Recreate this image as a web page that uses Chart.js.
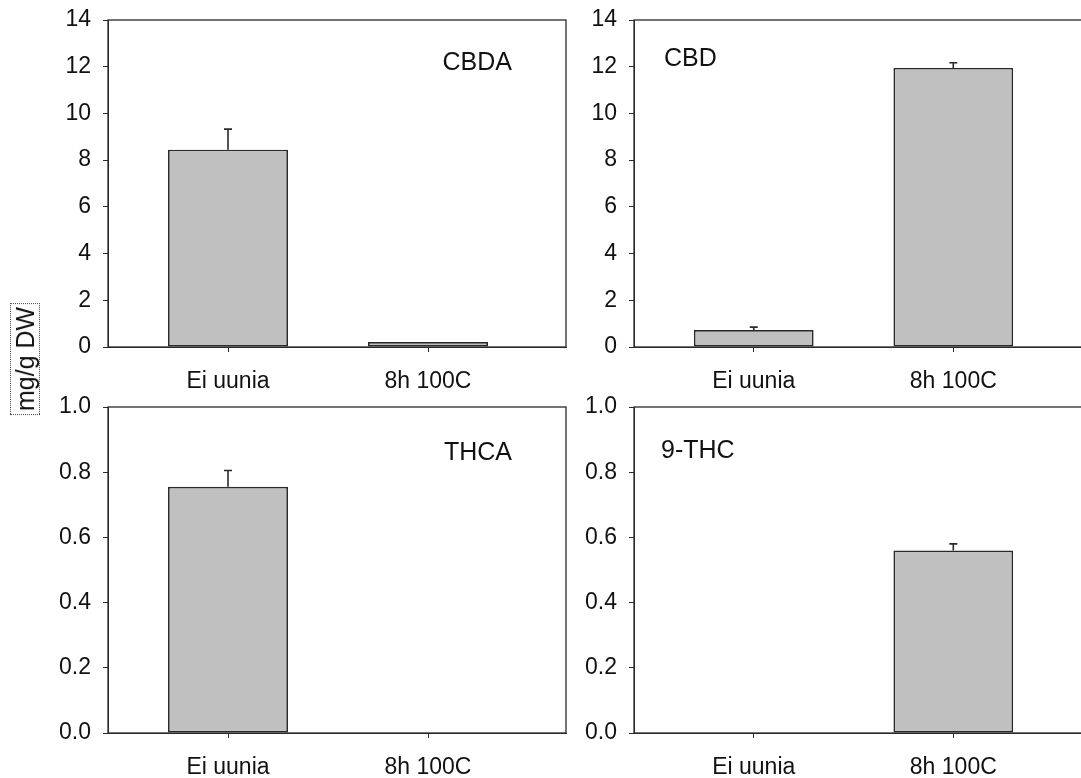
<!DOCTYPE html>
<html>
<head>
<meta charset="utf-8">
<script src="https://cdn.jsdelivr.net/npm/chart.js@4.4.0/dist/chart.umd.min.js"></script>
<style>
  html, body { margin: 0; padding: 0; background: #fff; }
  body { width: 1081px; height: 778px; position: relative; overflow: hidden; }
  canvas { position: absolute; }
  #ytitle {
    position: absolute; left: 25px; top: 359px;
    transform: translate(-50%, -50%) rotate(-90deg);
    font: 25px 'Liberation Sans', Arial, sans-serif; color: #111;
    border: 1px dotted #444; padding: 0 3px; line-height: 28px; white-space: nowrap;
  }
</style>
</head>
<body>
<canvas id="chart-cbda" width="570" height="390" style="left:0;top:0"></canvas>
<canvas id="chart-cbd" width="555" height="390" style="left:540px;top:0"></canvas>
<canvas id="chart-thca" width="570" height="388" style="left:0;top:390px"></canvas>
<canvas id="chart-thc" width="555" height="388" style="left:540px;top:390px"></canvas>
<div id="ytitle">mg/g DW</div>
<script>
const categories = ['Ei uunia', '8h 100C'];
const compounds = ['CBDA', 'CBD', 'THCA', '9-THC'];
const mgTicks = [0, 2, 4, 6, 8, 10, 12, 14];
const fracTicks = [0, 0.2, 0.4, 0.6, 0.8, 1.0];

// means and upper error (SE) per category
const cbdaMeans = [8.45, 0.21];
const cbdaErrors = [0.88, 0];
const cbdMeans = [0.73, 11.95];
const cbdErrors = [0.12, 0.22];
const thcaMeans = [0.755, 0];
const thcaErrors = [0.05, 0];
const thcMeans = [0, 0.56];
const thcErrors = [0, 0.02];

const FONT = "'Liberation Sans', Arial, sans-serif";
const INK = '#2a2a2a';

// upper whisker with a short cap
const errorBars = {
  id: 'errorBars',
  afterDatasetsDraw(chart, args, opts) {
    const {ctx} = chart;
    const y = chart.scales.y;
    const errs = opts.errors || [];
    ctx.save();
    ctx.strokeStyle = INK;
    ctx.lineWidth = 1.6;
    chart.getDatasetMeta(0).data.forEach((bar, i) => {
      if (!errs[i]) return;
      const v = chart.data.datasets[0].data[i].y;
      const top = y.getPixelForValue(v + errs[i]);
      ctx.beginPath();
      ctx.moveTo(bar.x, bar.y);
      ctx.lineTo(bar.x, top);
      ctx.moveTo(bar.x - 4, top);
      ctx.lineTo(bar.x + 4, top);
      ctx.stroke();
    });
    ctx.restore();
  }
};

// box round the plot area + compound name inside it
const frame = {
  id: 'frame',
  afterDraw(chart, args, opts) {
    const {ctx, chartArea: a} = chart;
    ctx.save();
    ctx.strokeStyle = INK;
    ctx.lineWidth = 1.3;
    ctx.strokeRect(a.left, a.top, a.width, a.height);
    ctx.fillStyle = '#111';
    ctx.font = `25px ${FONT}`;
    ctx.textAlign = opts.align;
    ctx.textBaseline = 'middle';
    const tx = opts.align === 'right' ? a.right - opts.dx : a.left + opts.dx;
    ctx.fillText(opts.text, tx, a.top + opts.dy);
    ctx.restore();
  }
};

const createChart = (id, means, errors, yTicks, decimals, yWidth, xHeight, padTop, label) => new Chart(
  document.getElementById(id), {
  type: 'bar',
  data: {
    datasets: [{
      data: categories.map((c, i) => ({x: i, y: means[i]})),
      backgroundColor: '#c0c0c0',
      borderColor: INK,
      borderWidth: 1.7,
      borderSkipped: false,
      barPercentage: 0.6,
      categoryPercentage: 1
    }]
  },
  options: {
    responsive: false,
    animation: false,
    layout: {padding: {top: padTop, right: 4, left: 0, bottom: 0}},
    plugins: {
      legend: {display: false},
      tooltip: {enabled: false},
      errorBars: {errors: errors},
      frame: label
    },
    scales: {
      x: {
        type: 'linear',
        min: -0.6,
        max: 1.69,
        offset: false,
        afterBuildTicks: s => { s.ticks = categories.map((c, i) => ({value: i})); },
        afterFit: s => { s.height = xHeight; },
        ticks: {
          callback: v => categories[v],
          font: {family: FONT, size: 23},
          color: '#111',
          padding: 16,
          maxRotation: 0,
          autoSkip: false
        },
        grid: {drawOnChartArea: false, offset: false, tickLength: 5, color: INK},
        border: {color: INK}
      },
      y: {
        min: 0,
        max: yTicks[yTicks.length - 1],
        afterBuildTicks: s => { s.ticks = yTicks.map(v => ({value: v})); },
        afterFit: s => { s.width = yWidth; s.paddingTop = 0; s.paddingBottom = 0; },
        ticks: {
          callback: v => decimals ? v.toFixed(1) : v,
          font: {family: FONT, size: 23},
          color: '#111',
          padding: 12
        },
        grid: {drawOnChartArea: false, tickLength: 5, color: INK},
        border: {color: INK}
      }
    }
  },
  plugins: [errorBars, frame]
});

createChart('chart-cbda', cbdaMeans, cbdaErrors, mgTicks, false, 108, 43, 20,
  {text: compounds[0], align: 'right', dx: 54, dy: 43});
createChart('chart-cbd', cbdMeans, cbdErrors, mgTicks, false, 94, 43, 20,
  {text: compounds[1], align: 'left', dx: 30, dy: 39});
createChart('chart-thca', thcaMeans, thcaErrors, fracTicks, true, 108, 45, 17,
  {text: compounds[2], align: 'right', dx: 54, dy: 46});
createChart('chart-thc', thcMeans, thcErrors, fracTicks, true, 94, 45, 17,
  {text: compounds[3], align: 'left', dx: 27, dy: 44});
</script>
</body>
</html>
